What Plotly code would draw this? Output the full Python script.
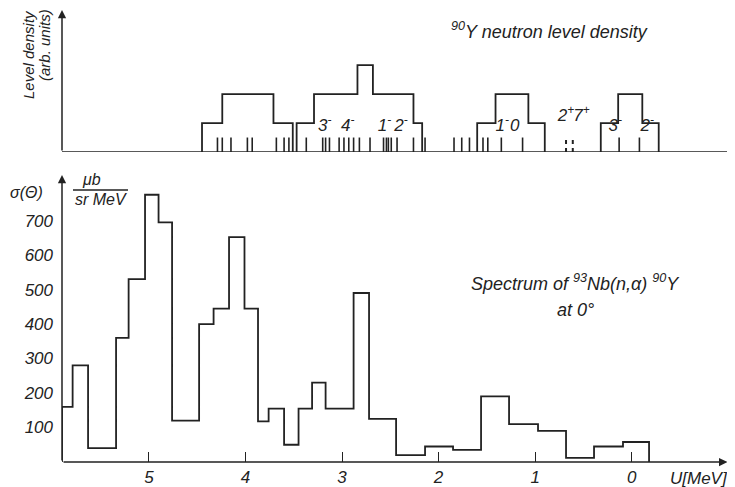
import plotly.graph_objects as go

# ---------------- data ----------------
# lower panel: spectrum of 93Nb(n,alpha)90Y at 0 deg (bin edges in U [MeV], values in microbarn/(sr MeV))
U_EDGES = [5.90, 5.79, 5.63, 5.34, 5.21, 5.04, 4.90, 4.76, 4.48, 4.33, 4.17, 4.01, 3.87,
           3.76, 3.60, 3.45, 3.31, 3.17, 2.88, 2.72, 2.44, 2.14, 1.85, 1.56, 1.27, 0.97,
           0.68, 0.39, 0.09, -0.18]
SIGMA = [160, 280, 40, 360, 530, 775, 695, 120, 400, 445, 652, 445, 118, 155, 50, 155,
         230, 155, 490, 125, 20, 45, 35, 190, 110, 90, 12, 45, 58]

# upper panel: 90Y neutron level density (arb. units), blocks of step histograms
B1_EDGES = [4.45, 4.24, 3.71, 3.51]
B1_H = [1, 2, 1]
B2_EDGES = [3.47, 3.29, 2.84, 2.68, 2.26, 2.17]
B2_H = [1, 2, 3, 2, 1]
B3_EDGES = [1.60, 1.41, 1.07, 0.90]
B3_H = [1, 2, 1]
B4_EDGES = [0.32, 0.14, -0.11, -0.28]
B4_H = [1, 2, 1]

LEVELS = [4.29, 4.24, 4.15, 3.98, 3.93, 3.68, 3.60, 3.55, 3.37, 3.20, 3.17, 3.13, 3.03,
          2.98, 2.93, 2.88, 2.82, 2.71, 2.57, 2.54, 2.52, 2.49, 2.43, 2.26, 2.14, 1.84,
          1.76, 1.68, 1.54, 1.49, 1.35, 1.13, 0.13, -0.08]
DOTTED_LEVELS = [0.68, 0.61]
LEVEL_MARK = 0.5

SPIN_TEXT = ["3<sup>-</sup>", "4<sup>-</sup>", "1<sup>-</sup>", "2<sup>-</sup>",
             "1<sup>-</sup>", "0", "2<sup>+</sup>", "7<sup>+</sup>",
             "3<sup>-</sup>", "2<sup>-</sup>"]
SPIN_U = [3.18, 2.94, 2.56, 2.39, 1.34, 1.21, 0.68, 0.52, 0.17, -0.16]
SPIN_Y = [0.86, 0.86, 0.86, 0.86, 0.86, 0.86, 1.2, 1.2, 0.86, 0.86]

X_TICKS = [5, 4, 3, 2, 1, 0]
Y_TICKS = [100, 200, 300, 400, 500, 600, 700]

# ---------------- figure ----------------
INK = "#222222"
FONT = "Liberation Sans"
X_RANGE = [5.90, -1.07]
Y_RANGE = [0, 832]
Y2_RANGE = [0, 4.97]


def step_xy(edges, vals):
    xs = [edges[0]] + list(edges)
    ys = [0] + list(vals) + [0]
    return xs, ys


fig = go.Figure()

sx, sy = step_xy(U_EDGES, SIGMA)
fig.add_trace(go.Scatter(x=sx, y=sy, mode="lines", line=dict(color=INK, width=1.8, shape="hv"),
                         xaxis="x", yaxis="y", hoverinfo="skip"))

for e, h in [(B1_EDGES, B1_H), (B2_EDGES, B2_H), (B3_EDGES, B3_H), (B4_EDGES, B4_H)]:
    bx, by = step_xy(e, h)
    fig.add_trace(go.Scatter(x=bx, y=by, mode="lines", line=dict(color=INK, width=1.8, shape="hv"),
                             xaxis="x", yaxis="y2", hoverinfo="skip"))

lx, ly = [], []
for u in LEVELS:
    lx += [u, u, None]
    ly += [0, LEVEL_MARK, None]
fig.add_trace(go.Scatter(x=lx, y=ly, mode="lines", line=dict(color=INK, width=1.6),
                         xaxis="x", yaxis="y2", hoverinfo="skip"))
dx, dy = [], []
for u in DOTTED_LEVELS:
    dx += [u, u, None]
    dy += [0, LEVEL_MARK, None]
fig.add_trace(go.Scatter(x=dx, y=dy, mode="lines", line=dict(color=INK, width=2, dash="4px,4px"),
                         xaxis="x", yaxis="y2", hoverinfo="skip"))

fig.add_trace(go.Scatter(x=SPIN_U, y=SPIN_Y, mode="text", text=SPIN_TEXT,
                         textfont=dict(family=FONT, size=17, color=INK, style="italic"),
                         xaxis="x", yaxis="y2", hoverinfo="skip"))

# the page adds an 8px body margin, so the figure is 8px smaller and shifted
fig.update_layout(
    width=727, height=479,
    margin=dict(l=54, r=0, t=0, b=25, autoexpand=False),
    paper_bgcolor="white", plot_bgcolor="white",
    showlegend=False,
    font=dict(family=FONT, color=INK, size=15, style="italic"),
    xaxis=dict(range=X_RANGE, domain=[0, 1], anchor="y", showgrid=False, zeroline=False,
               showline=False, tickvals=X_TICKS, ticktext=[str(t) for t in X_TICKS],
               ticks="inside", ticklen=10, tickwidth=1.4, tickcolor=INK,
               tickfont=dict(family=FONT, size=17, color=INK, style="italic"),
               ticklabelstandoff=3),
    yaxis=dict(range=Y_RANGE, domain=[0, 0.632], anchor="x", showgrid=False, zeroline=False,
               showline=False, tickvals=Y_TICKS, ticks="",
               tickfont=dict(family=FONT, size=17, color=INK, style="italic"),
               ticklabelstandoff=8),
    yaxis2=dict(range=Y2_RANGE, domain=[0.6828, 1.0], anchor="x", showgrid=False,
                zeroline=False, showline=False, showticklabels=False, ticks=""),
)

# axes drawn as arrows
arrow = dict(text="", showarrow=True, arrowhead=2, arrowsize=1.1, arrowwidth=1.5,
             arrowcolor=INK, standoff=0, startstandoff=0)
fig.add_annotation(x=-0.99, y=0, ax=X_RANGE[0], ay=0, xref="x", yref="y",
                   axref="x", ayref="y", **arrow)
fig.add_annotation(x=X_RANGE[0], y=Y_RANGE[1], ax=X_RANGE[0], ay=0, xref="x", yref="y",
                   axref="x", ayref="y", **arrow)
fig.add_annotation(x=X_RANGE[0], y=4.9, ax=X_RANGE[0], ay=0, xref="x", yref="y2",
                   axref="x", ayref="y2", **arrow)
fig.add_shape(type="line", x0=X_RANGE[0], x1=X_RANGE[1], y0=0, y1=0, xref="x", yref="y2",
              line=dict(color=INK, width=1.5))

tf = dict(family=FONT, color=INK, style="italic")


def px(xpix):
    return (xpix - 62) / 673


def py(ypix):
    return (462 - ypix) / 454


def label(xp, yp, text, size, angle=0):
    fig.add_annotation(x=px(xp), y=py(yp), xref="paper", yref="paper", showarrow=False,
                       xanchor="center", yanchor="middle", text=text, textangle=angle,
                       font=dict(size=size, **tf))


label(549, 30, "<sup>90</sup>Y neutron level density", 18)
label(575, 282, "Spectrum of <sup>93</sup>Nb(n,α) <sup>90</sup>Y", 18)
label(575, 310, "at 0°", 18)
label(699, 478, "U[MeV]", 17)
label(28, 55, "Level density", 15, -90)
label(45, 45, "(arb. units)", 15, -90)
label(26, 192, "σ(Θ)", 16)
label(91, 180, "μb", 16)
label(101, 200, "sr MeV", 16)
fig.add_shape(type="line", x0=px(73), x1=px(128), y0=py(190), y1=py(190),
              xref="paper", yref="paper", line=dict(color=INK, width=1.3))

fig.write_html("out.html")
